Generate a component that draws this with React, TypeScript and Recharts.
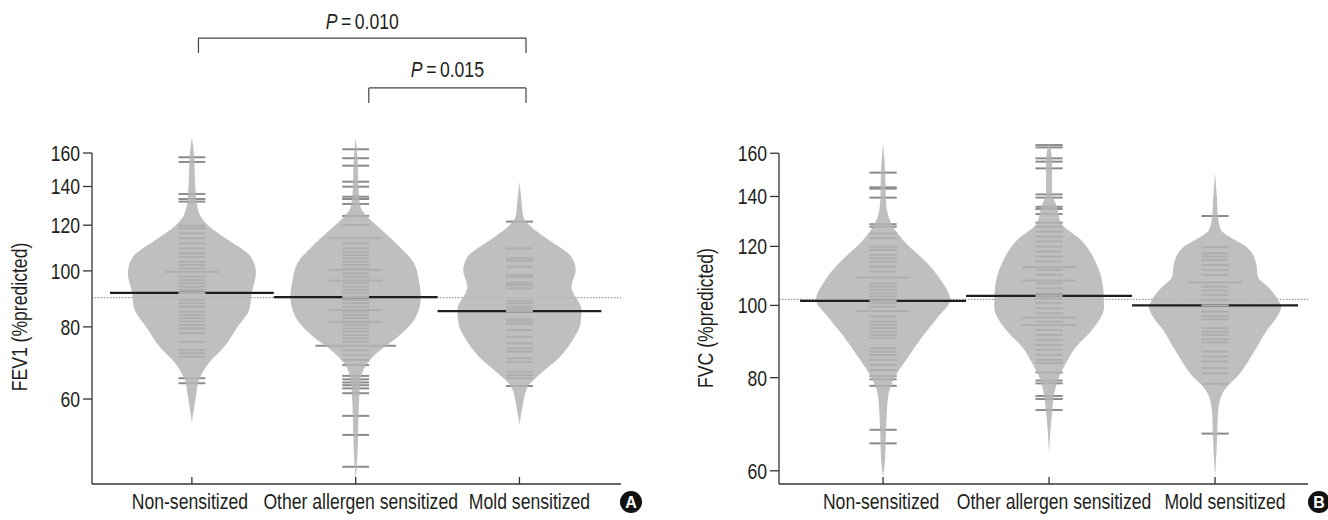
import React from 'react';
import { ComposedChart, Area, XAxis, YAxis, ReferenceLine } from 'recharts';

const FONT = "'Liberation Sans', Arial, sans-serif";
const NARROW = 0.8; // horizontal squeeze emulating a narrow sans face
const FS = 22;
const TEXT = '#231f20';

const GROUPS = ['Non-sensitized', 'Other allergen sensitized', 'Mold sensitized'];
const GROUP_POS = [1, 2, 3];
const LABEL_SHIFT = [-2, 5, 10];
const Y_TICKS = [60, 80, 100, 120, 140, 160];

// ---------- Panel A : FEV1 ----------
// violin outlines: [value, half-width in category units]
const fevNonShape: [number, number][] = [[170.5,0],[160,0.012],[146.6,0.018],[135.3,0.024],[126,0.043],[120,0.098],[113.2,0.22],[105.7,0.361],[99.2,0.391],[91.6,0.365],[86,0.352],[80,0.28],[73.8,0.196],[69.3,0.104],[64.7,0.043],[60.5,0.024],[54.7,0]];
const fevOtherShape: [number, number][] = [[170,0],[155.6,0.012],[138,0.018],[129,0.03],[124,0.073],[117.7,0.159],[110.9,0.257],[103.2,0.355],[96.4,0.385],[90.1,0.398],[83.2,0.367],[76.8,0.257],[73,0.153],[69.3,0.073],[64.7,0.03],[56.7,0.018],[49,0.012],[43.4,0]];
const fevMoldShape: [number, number][] = [[142.6,0],[132.7,0.012],[124,0.024],[120,0.061],[113.2,0.177],[105.7,0.318],[100.4,0.343],[93.8,0.318],[85.6,0.379],[81.2,0.373],[76.8,0.336],[70.9,0.245],[66.6,0.135],[62.9,0.049],[58.1,0.018],[54.1,0]];

const fevNonBeans = [157.3,154.4,135.9,133.2,131.8,119.8,118.5,116.2,113.9,111.6,109.4,107.3,105.8,103.7,102.4,101,99.7,99.7,97.7,96.4,95.2,93.9,92.7,91.6,89,87.9,86.7,85,83.9,82.8,81.7,80.6,79.5,78,75.4,72.9,72,71,65.2,63.9];
const fevOtherBeans = [162.4,156.7,152.1,142.7,139.9,134.4,133.2,130.6,124.5,120.1,113.9,113.9,111.6,109.4,107.9,106.5,105.1,103.7,102.4,101,100.4,100.4,99,97.7,96.2,96.2,95.2,93.9,92.7,91.5,90.1,89,87.9,86.7,85.6,85.6,85,83.9,82.8,81.7,81.5,81.5,80.6,79.5,78.5,77.4,76.4,75.4,74.2,74.2,74.2,72.9,71.5,70.1,68.7,65.8,64.9,64.1,63.4,62.6,61.4,56.1,52,45.8];
const fevMoldBeans = [121.7,109.4,105.1,104.1,101.7,98.4,97.5,95.4,94.5,93.3,88.8,87.9,86.7,85.8,85.2,82.4,81.7,80.9,79,76.9,74.9,73.4,72.5,70.6,69.6,66.9,66,65.2,63.2];

const fevMedians = [91.6, 90.1, 85.2];
const fevOverall = 89.9;
const fevYDomain: [number, number] = [42.76, 182.5];
const fevXDomain: [number, number] = [0.39, 3.62];
const fevBrackets = [
  { from: 1.04, to: 3.04, top: 253, leg: 238.4, text: '0.010', dy: -9 },
  { from: 2.08, to: 3.04, top: 207.4, leg: 195.3, text: '0.015', dy: -11 },
];

// ---------- Panel B : FVC ----------
const fvcNonShape: [number, number][] = [[165,0],[151.9,0.012],[137.2,0.018],[129,0.048],[122.4,0.12],[114,0.265],[108.1,0.349],[101.7,0.404],[96.5,0.331],[90.7,0.235],[85.3,0.151],[80.2,0.072],[75.4,0.03],[68.1,0.018],[62.1,0.012],[58.9,0]];
const fvcOtherShape: [number, number][] = [[165,0],[156.7,0.018],[141.5,0.018],[135.5,0.048],[129,0.072],[122.4,0.193],[114,0.283],[105.9,0.325],[99.5,0.331],[92.7,0.259],[88,0.163],[83.7,0.102],[80.2,0.06],[77,0.036],[71.8,0.018],[63.4,0]];
const fvcMoldShape: [number, number][] = [[150.5,0],[138.5,0.012],[131.4,0.018],[126.2,0.036],[123.5,0.09],[119.8,0.19],[114,0.247],[109.2,0.259],[105.9,0.319],[101.7,0.38],[99.5,0.398],[96.5,0.373],[92.7,0.313],[88,0.253],[83.7,0.193],[80.2,0.133],[77.8,0.072],[75.4,0.036],[71.8,0.018],[66,0.012],[58.9,0]];

const fvcNonBeans = [150.7,144,143.4,139.5,128.5,127.5,124.9,123.1,119.9,118.7,116.9,115.7,114.5,112.7,111,109,109,107.1,106,104.9,103.8,102.8,101.4,100.7,99.6,98.3,98.3,96.6,95.1,94.1,93.2,92.2,91.3,90.4,87.6,86.7,85.8,84.5,83.2,81.9,80.4,79.6,78,68.1,65.3];
const fvcOtherBeans = [164.1,162.9,157.5,155.9,152.7,140.9,139.5,135.6,134.7,132.6,129.1,127.5,125.6,123.7,121.8,119.9,118.1,116.3,114.5,112.5,112.5,111.6,109.9,108,108,107.1,105.4,103.8,103,102.2,100.7,99.1,97.6,96.3,96.3,95.1,94.1,94.1,92.7,91.3,89.9,88.5,87.2,85.8,84.5,83.7,81.3,79.3,78.6,75.6,74.9,72.4];
const fvcMoldBeans = [131.8,119.7,117.5,116.3,115.1,113.3,111.6,109.9,107.3,107.3,106,104.7,103.3,101.7,100,98.1,96.8,95.8,93.2,92.2,91.3,90.1,89.2,86.7,85.4,84.1,82.4,81.1,78.5,67.3];

const fvcMedians = [101.4, 103, 100];
const fvcOverall = 101.9;
const fvcYDomain: [number, number] = [57.6, 177.3];
const fvcXDomain: [number, number] = [0.373, 3.56];

// ---------- helpers ----------
const BEAN_HALF = 0.082;
const MEDIAN_HALF = 0.5;

function buildArea(shape: [number, number][], pos: number) {
  return shape.map(([v, w]) => ({ v, span: [pos - w, pos + w] }));
}

function beanSegments(values: number[], pos: number) {
  const counts = new Map<string, { v: number; n: number }>();
  values.forEach((v) => {
    const k = v.toFixed(1);
    const e = counts.get(k);
    if (e) e.n += 1;
    else counts.set(k, { v, n: 1 });
  });
  return Array.from(counts.values()).map(({ v, n }) => ({ v, x1: pos - BEAN_HALF * n, x2: pos + BEAN_HALF * n }));
}

const XTick = ({ x, y, payload }: any) => {
  const i = Math.round(payload.value) - 1;
  return (
    <g transform={`translate(${x + (LABEL_SHIFT[i] || 0)},${y})`}>
      <text transform={`scale(${NARROW},1)`} textAnchor="middle" dy="0.76em" fontSize={FS} fontFamily={FONT} fill={TEXT}>
        {GROUPS[i]}
      </text>
    </g>
  );
};

const YTick = ({ x, y, payload }: any) => (
  <g transform={`translate(${x},${y})`}>
    <text transform={`scale(${NARROW},1)`} textAnchor="end" dy="0.36em" fontSize={FS} fontFamily={FONT} fill={TEXT}>
      {payload.value}
    </text>
  </g>
);

const AxisTitle = ({ viewBox, text, cx, dy }: any) => {
  if (!viewBox) return null;
  const x = viewBox.x + cx;
  const y = viewBox.y + viewBox.height / 2 + dy;
  return (
    <g transform={`translate(${x},${y}) rotate(-90) scale(${NARROW},1)`}>
      <text x={0} y={0} textAnchor="middle" dy="0.36em" fontSize={FS} fontFamily={FONT} fill={TEXT}>{text}</text>
    </g>
  );
};

const PLabel = ({ viewBox, text, dy }: any) => {
  if (!viewBox) return null;
  const x = viewBox.x + viewBox.width / 2;
  const y = viewBox.y + dy;
  return (
    <g transform={`translate(${x},${y}) scale(${NARROW},1)`}>
      <text x={0} y={0} textAnchor="middle" fontSize={FS} fontFamily={FONT} fill={TEXT}>
        <tspan fontStyle="italic">P</tspan>
        <tspan>{'\u2009=\u2009' + text}</tspan>
      </text>
    </g>
  );
};

type PanelProps = {
  left: number;
  yLabel: string;
  labelCx: number;
  labelDy: number;
  shapes: [number, number][][];
  beans: number[][];
  medians: number[];
  overall: number;
  yDomain: [number, number];
  xDomain: [number, number];
  yAxisWidth: number;
  marginRight: number;
  brackets?: { from: number; to: number; top: number; leg: number; text: string; dy: number }[];
};

function Panel(p: PanelProps) {
  return (
    <div style={{ position: 'absolute', left: p.left, top: 0 }}>
      <ComposedChart layout="vertical" width={664} height={520}
        margin={{ top: 120, right: p.marginRight, bottom: 6, left: 0 }}>
        <XAxis type="number" domain={p.xDomain} allowDataOverflow ticks={GROUP_POS} interval={0}
          height={30} tickSize={-7} tickMargin={15} tick={<XTick />}
          axisLine={{ stroke: '#333', strokeWidth: 1.3 }} tickLine={{ stroke: '#333', strokeWidth: 1.3 }} />
        <YAxis type="number" dataKey="v" scale="log" reversed domain={p.yDomain} allowDataOverflow ticks={Y_TICKS}
          interval={0} width={p.yAxisWidth} axisLine={false} tickSize={9} tickMargin={3} tick={<YTick />}
          tickLine={{ stroke: '#333', strokeWidth: 1.3 }}
          label={<AxisTitle text={p.yLabel} cx={p.labelCx} dy={p.labelDy} />} />

        <ReferenceLine y={p.overall} stroke="#9a9a9a" strokeWidth={1.2} strokeDasharray="1.5 1.5"
          ifOverflow="visible" zIndex={40} />

        {p.beans.map((vals, gi) =>
          beanSegments(vals, GROUP_POS[gi]).map((b, bi) => (
            <ReferenceLine key={`b${gi}-${bi}`} segment={[{ x: b.x1, y: b.v }, { x: b.x2, y: b.v }]}
              stroke="#8c8c8c" strokeWidth={2} ifOverflow="visible" zIndex={50} />
          ))
        )}

        {p.shapes.map((s, gi) => (
          <Area key={`a${gi}`} data={buildArea(s, GROUP_POS[gi])} dataKey="span" type="monotone"
            stroke="none" fill="#b4b4b4" fillOpacity={0.85} isAnimationActive={false} zIndex={100} />
        ))}

        {p.medians.map((m, gi) => (
          <ReferenceLine key={`m${gi}`} segment={[{ x: GROUP_POS[gi] - MEDIAN_HALF, y: m }, { x: GROUP_POS[gi] + MEDIAN_HALF, y: m }]}
            stroke="#1e1e1e" strokeWidth={2.2} ifOverflow="visible" zIndex={450} />
        ))}
        {p.medians.map((m, gi) => (
          <ReferenceLine key={`mo${gi}`} segment={[{ x: GROUP_POS[gi] - BEAN_HALF, y: m }, { x: GROUP_POS[gi] + BEAN_HALF, y: m }]}
            stroke="#b0b0b0" strokeWidth={2.2} ifOverflow="visible" zIndex={460} />
        ))}

        <ReferenceLine segment={[{ x: p.xDomain[0], y: Y_TICKS[Y_TICKS.length - 1] }, { x: p.xDomain[0], y: p.yDomain[0] }]}
          stroke="#333" strokeWidth={1.3} ifOverflow="visible" zIndex={500} />

        {(p.brackets || []).map((br, i) => (
          <ReferenceLine key={`brh${i}`} segment={[{ x: br.from, y: br.top }, { x: br.to, y: br.top }]}
            stroke="#444" strokeWidth={1.2} ifOverflow="visible" zIndex={500}
            label={<PLabel text={br.text} dy={br.dy} />} />
        ))}
        {(p.brackets || []).map((br, i) => (
          <ReferenceLine key={`brl${i}`} segment={[{ x: br.from, y: br.top }, { x: br.from, y: br.leg }]}
            stroke="#444" strokeWidth={1.2} ifOverflow="visible" zIndex={500} />
        ))}
        {(p.brackets || []).map((br, i) => (
          <ReferenceLine key={`brr${i}`} segment={[{ x: br.to, y: br.top }, { x: br.to, y: br.leg }]}
            stroke="#444" strokeWidth={1.2} ifOverflow="visible" zIndex={500} />
        ))}
      </ComposedChart>
    </div>
  );
}

const Badge = ({ x, y, letter }: { x: number; y: number; letter: string }) => (
  <g>
    <circle cx={x} cy={y} r={11} fill="#111" />
    <text x={x} y={y + 5.5} textAnchor="middle" fontSize={16} fontWeight="bold" fontFamily={FONT} fill="#fff">{letter}</text>
  </g>
);

export default function App() {
  return (
    <div style={{ position: 'absolute', left: 0, top: 0, width: 1328, height: 520, background: '#fff', overflow: 'hidden' }}>
      <Panel left={0} yLabel="FEV1 (%predicted)" labelCx={19} labelDy={15}
        shapes={[fevNonShape, fevOtherShape, fevMoldShape]}
        beans={[fevNonBeans, fevOtherBeans, fevMoldBeans]}
        medians={fevMedians} overall={fevOverall} yDomain={fevYDomain} xDomain={fevXDomain}
        yAxisWidth={92} marginRight={43} brackets={fevBrackets} />
      <Panel left={664} yLabel="FVC (%predicted)" labelCx={41} labelDy={16}
        shapes={[fvcNonShape, fvcOtherShape, fvcMoldShape]}
        beans={[fvcNonBeans, fvcOtherBeans, fvcMoldBeans]}
        medians={fvcMedians} overall={fvcOverall} yDomain={fvcYDomain} xDomain={fvcXDomain}
        yAxisWidth={115} marginRight={20} />
      <svg width={1328} height={520} style={{ position: 'absolute', left: 0, top: 0, pointerEvents: 'none' }}>
        <Badge x={631} y={502} letter="A" />
        <Badge x={1319} y={502} letter="B" />
      </svg>
    </div>
  );
}
